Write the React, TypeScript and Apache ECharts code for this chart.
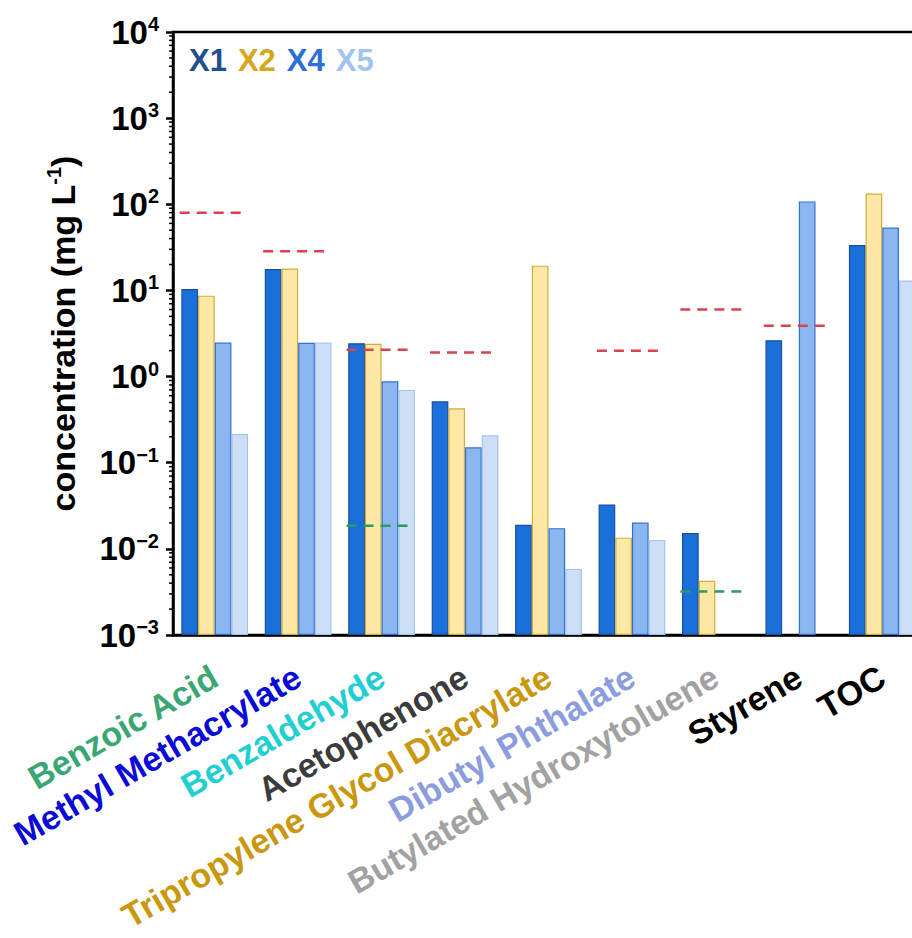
import React, { useEffect, useRef } from 'react';
import * as echarts from 'echarts';

const categories = [
  'Benzoic Acid',
  'Methyl Methacrylate',
  'Benzaldehyde',
  'Acetophenone',
  'Tripropylene Glycol Diacrylate',
  'Dibutyl Phthalate',
  'Butylated Hydroxytoluene',
  'Styrene',
  'TOC',
];
const categoryColors = ['#3aa674', '#0b0bd6', '#22cfd0', '#3c3c3c', '#c9980f', '#8b9ddc', '#a2a2a2', '#000000', '#000000'];

const seriesNames = ['X1', 'X2', 'X4', 'X5'];
const x1Values = [10.4, 17.7, 2.44, 0.516, 0.019, 0.0328, 0.0153, 2.64, 33.6];
const x2Values = [8.7, 18.0, 2.4, 0.428, 19.4, 0.0135, 0.00425, null, 133];
const x4Values = [2.48, 2.47, 0.88, 0.151, 0.0174, 0.0202, null, 108, 53.6];
const x5Values = [0.215, 2.48, 0.7, 0.208, 0.00585, 0.0127, null, null, 13.0];

const redLimitCategories = [0, 1, 2, 3, 5, 6, 7];
const redLimitValues = [80, 28.5, 2.05, 1.9, 2.0, 6.0, 3.9];
const greenLimitCategories = [2, 6];
const greenLimitValues = [0.0185, 0.0032];

const decadeExponents = [-3, -2, -1, 0, 1, 2, 3];
const minorMultipliers = [2, 3, 4, 5, 6, 7, 8, 9];

const FONT = '"Liberation Sans", Arial, sans-serif';

const fills = ['#1b6fdb', '#fde8a6', '#8cb6ef', '#cddff7'];
const borders = ['#17509b', '#d1ae3c', '#2f73d0', '#a6c3ec'];
const legendColors = ['#1f4f8f', '#d6a61c', '#2b6fd8', '#a3c4ee'];

export default function App() {
  const ref = useRef<HTMLDivElement>(null);
  useEffect(() => {
    if (!ref.current) return;
    const chart = echarts.init(ref.current, undefined, { renderer: 'svg' });
    const allValues = [x1Values, x2Values, x4Values, x5Values];

    const minorData: number[][] = [];
    decadeExponents.forEach((e) => {
      minorMultipliers.forEach((m) => {
        minorData.push([0, m * Math.pow(10, e)]);
      });
    });

    const limitRender = (color: string) => (params: any, api: any) => {
      const p = api.coord([api.value(0), api.value(1)]);
      const bw = api.size([1, 0])[0];
      return {
        type: 'line',
        shape: { x1: p[0] - 0.42 * bw, y1: p[1], x2: p[0] + 0.335 * bw, y2: p[1] },
        style: { stroke: color, lineWidth: 2.5, lineDash: [10, 7] },
      };
    };

    const option: any = {
      animation: false,
      legend: {
        data: seriesNames.map((n, i) => ({ name: n, textStyle: { color: legendColors[i] } })),
        icon: 'none',
        itemWidth: 0,
        itemHeight: 0,
        itemGap: 6,
        left: 179,
        top: 40,
        selectedMode: false,
        textStyle: { fontSize: 31, fontWeight: 'bold', fontFamily: FONT },
      },
      grid: {
        left: 173,
        top: 32,
        bottom: 303,
        right: 0,
        show: true,
        borderColor: '#000',
        borderWidth: 2.5,
        backgroundColor: 'transparent',
      },
      xAxis: [
        {
          type: 'category',
          data: categories,
          position: 'bottom',
          axisLine: { lineStyle: { color: '#000', width: 2.5 } },
          axisTick: { alignWithLabel: true, length: 7, lineStyle: { color: '#000', width: 2.5 } },
          axisLabel: {
            rotate: 30,
            margin: 39,
            interval: 0,
            fontSize: 34,
            fontWeight: 'bold',
            fontFamily: FONT,
            color: (v: string, i: number) => categoryColors[i],
          },
        },
        {
          type: 'category',
          data: categories,
          position: 'bottom',
          offset: 0,
          axisLine: { show: false },
          axisTick: { length: 4, lineStyle: { color: '#000', width: 2.5 } },
          axisLabel: { show: false },
        },
      ],
      yAxis: {
        type: 'log',
        logBase: 10,
        min: 0.001,
        max: 10000,
        startValue: 0.001,
        axisLine: { show: true, lineStyle: { color: '#000', width: 2.5 } },
        axisTick: { show: true, length: 7, lineStyle: { color: '#000', width: 2.5 } },
        splitLine: { show: false },
        axisLabel: {
          margin: 14,
          formatter: (v: number) => {
            const e = Math.round(Math.log10(v));
            const s = e < 0 ? '\u2212' + Math.abs(e) : String(e);
            return '{b|10}{s|' + s + '}';
          },
          rich: {
            b: { fontSize: 33, fontWeight: 'bold', fontFamily: FONT, color: '#000', lineHeight: 36 },
            s: { fontSize: 20, fontWeight: 'bold', fontFamily: FONT, color: '#000', verticalAlign: 'top', lineHeight: 22 },
          },
        },
        name: '{a|concentration (mg L}{s|-1}{a|)}',
        nameLocation: 'middle',
        nameGap: 91,
        nameTextStyle: {
          rich: {
            a: { fontSize: 34, fontWeight: 'bold', fontFamily: FONT, color: '#000', lineHeight: 38 },
            s: { fontSize: 20, fontWeight: 'bold', fontFamily: FONT, color: '#000', verticalAlign: 'top', lineHeight: 22 },
          },
        },
      },
      series: [
        ...seriesNames.map((n, i) => ({
          name: n,
          type: 'bar',
          data: allValues[i],
          barGap: '0%',
          barCategoryGap: '20%',
          itemStyle: { color: fills[i], borderColor: borders[i], borderWidth: 1.2 },
        })),
        {
          type: 'custom',
          name: 'redLimits',
          renderItem: limitRender('#d9434d'),
          data: redLimitCategories.map((c, i) => [c, redLimitValues[i]]),
          clip: false,
          silent: true,
          z: 10,
        },
        {
          type: 'custom',
          name: 'greenLimits',
          renderItem: limitRender('#2e9b5b'),
          data: greenLimitCategories.map((c, i) => [c, greenLimitValues[i]]),
          clip: false,
          silent: true,
          z: 10,
        },
        {
          type: 'custom',
          name: 'minorTicks',
          renderItem: (params: any, api: any) => {
            const y = api.coord([0, api.value(1)])[1];
            const x0 = params.coordSys.x;
            return {
              type: 'line',
              shape: { x1: x0 - 4, y1: y, x2: x0, y2: y },
              style: { stroke: '#000', lineWidth: 1.5 },
            };
          },
          data: minorData,
          clip: false,
          silent: true,
          z: 10,
        },
      ],
    };
    chart.setOption(option);
    return () => chart.dispose();
  }, []);
  return (
    <div style={{ position: 'absolute', left: 0, top: 0, width: 912, height: 938, overflow: 'hidden' }}>
      <div ref={ref} style={{ width: 924, height: 938 }} />
    </div>
  );
}
